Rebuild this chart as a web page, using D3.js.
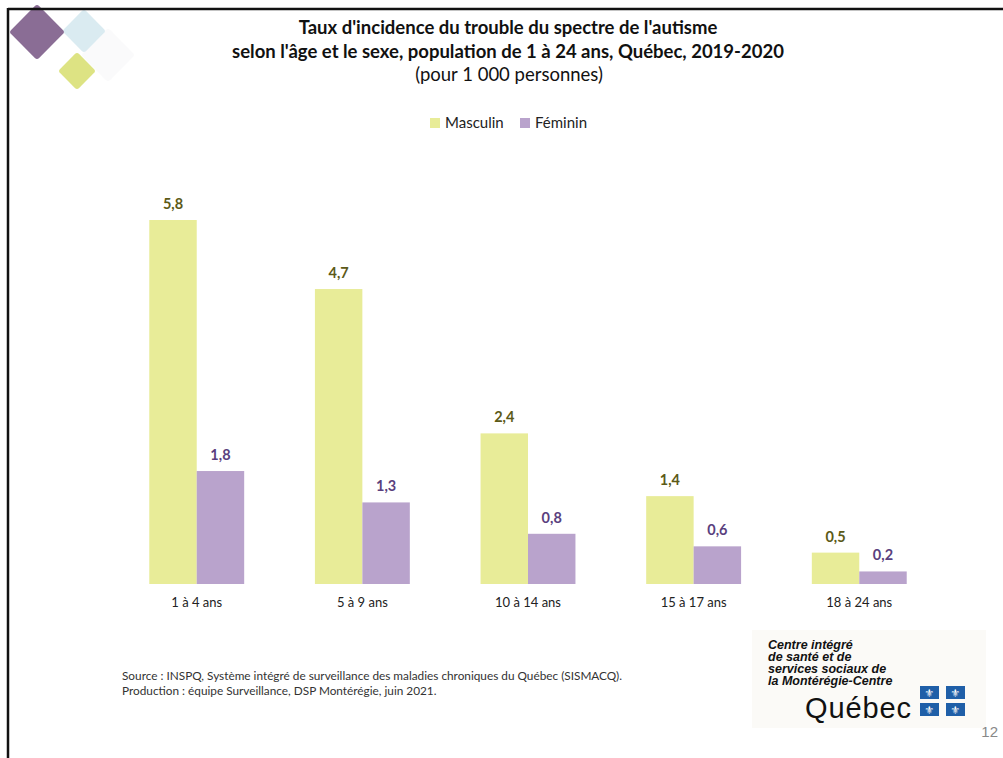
<!DOCTYPE html>
<html>
<head>
<meta charset="utf-8">
<script src="https://cdn.jsdelivr.net/npm/d3@7"></script>
<style>
  html, body { margin: 0; padding: 0; background: #fff; }
  svg { display: block; }
</style>
</head>
<body>
<svg id="chart" width="1003" height="758"></svg>
<script>
// Age groups and incidence per 1 000 persons, Québec 2019-2020
const ageGroups = ["1 à 4 ans", "5 à 9 ans", "10 à 14 ans", "15 à 17 ans", "18 à 24 ans"];
const masculin = [5.8, 4.7, 2.4, 1.4, 0.5];
const feminin = [1.8, 1.3, 0.8, 0.6, 0.2];
const seriesNames = ["Masculin", "Féminin"];

const titleLines = [
  "Taux d'incidence du trouble du spectre de l'autisme",
  "selon l'âge et le sexe, population de 1 à 24 ans, Québec, 2019-2020"
];
const subtitle = "(pour 1 000 personnes)";
const sourceLines = [
  "Source : INSPQ, Système intégré de surveillance des maladies chroniques du Québec (SISMACQ).",
  "Production : équipe Surveillance, DSP Montérégie, juin 2021."
];

const colors = { Masculin: "#e8ec98", "Féminin": "#b9a3cc" };
const labelColors = { Masculin: "#5c5a17", "Féminin": "#5a3f7e" };

const svg = d3.select("#chart");
const font = "Lato, 'Open Sans', sans-serif";

// Decorative diamonds in the corner
const deco = svg.append("g");
const diamond = (cx, cy, r, fill, op) => deco.append("rect")
  .attr("x", -r / Math.SQRT2).attr("y", -r / Math.SQRT2)
  .attr("width", r * Math.SQRT2).attr("height", r * Math.SQRT2)
  .attr("rx", 3)
  .attr("transform", `translate(${cx},${cy}) rotate(45)`)
  .attr("fill", fill).attr("opacity", op);
diamond(108, 55, 27, "#fafafb", 1);
diamond(84, 31, 22, "#d6e9f0", 0.9);
diamond(37, 32, 28, "#8a6d95", 1);
diamond(77, 71, 19, "#dde383", 1);

// Slide frame
svg.append("line").attr("x1", 8).attr("x2", 1003).attr("y1", 9).attr("y2", 9)
  .attr("stroke", "#111").attr("stroke-width", 2.5);
svg.append("line").attr("x1", 8).attr("x2", 8).attr("y1", 8).attr("y2", 758)
  .attr("stroke", "#111").attr("stroke-width", 2.5);

// Titles
svg.append("g").selectAll("text").data(titleLines).join("text")
  .attr("x", 508).attr("y", (d, i) => 34 + i * 24)
  .attr("text-anchor", "middle")
  .attr("font-family", font).attr("font-weight", "bold").attr("font-size", 18.5)
  .attr("fill", "#111").text(d => d);
svg.append("text").attr("x", 509).attr("y", 81).attr("text-anchor", "middle")
  .attr("font-family", font).attr("font-size", 18.5).attr("fill", "#111").text(subtitle);

// Legend
const legend = svg.append("g").selectAll("g").data(seriesNames).join("g")
  .attr("transform", (d, i) => `translate(${[430, 520][i]},118)`);
legend.append("rect").attr("width", 10).attr("height", 10).attr("fill", d => colors[d]);
legend.append("text").attr("x", 15).attr("y", 10)
  .attr("font-family", font).attr("font-size", 15).attr("fill", "#222").text(d => d);

// Scales
const x0 = d3.scaleBand().domain(ageGroups).range([114, 942]).paddingInner(0.427).paddingOuter(0.213);
const x1 = d3.scaleBand().domain(seriesNames).range([0, x0.bandwidth()]);
const y = d3.scaleLinear().domain([0, 5.8]).range([584, 220]);

const rows = ageGroups.map((g, i) => ({ group: g, values: [
  { key: "Masculin", value: masculin[i] },
  { key: "Féminin", value: feminin[i] }
]}));

const groups = svg.append("g").selectAll("g").data(rows).join("g")
  .attr("transform", d => `translate(${x0(d.group)},0)`);

groups.selectAll("rect").data(d => d.values).join("rect")
  .attr("x", d => x1(d.key)).attr("width", x1.bandwidth())
  .attr("y", d => y(d.value)).attr("height", d => y(0) - y(d.value))
  .attr("fill", d => colors[d.key]);

groups.selectAll("text").data(d => d.values).join("text")
  .attr("x", d => x1(d.key) + x1.bandwidth() / 2)
  .attr("y", d => y(d.value) - 11)
  .attr("text-anchor", "middle")
  .attr("font-family", font).attr("font-weight", "bold").attr("font-size", 14.5)
  .attr("fill", d => labelColors[d.key])
  .text(d => d3.format(".1f")(d.value).replace(".", ","));

// Category axis (labels only)
const xAxis = svg.append("g").attr("transform", `translate(0,${y(0)})`)
  .call(d3.axisBottom(x0).tickSize(0).tickPadding(14));
xAxis.select(".domain").remove();
xAxis.selectAll("text").attr("font-family", font).attr("font-size", 13).attr("fill", "#222");

// Source notes
svg.append("g").selectAll("text").data(sourceLines).join("text")
  .attr("x", 122).attr("y", (d, i) => 680 + i * 15)
  .attr("font-family", font).attr("font-size", 11.8).attr("fill", "#333").text(d => d);

// Organisation block
const logo = svg.append("g");
logo.append("rect").attr("x", 752).attr("y", 630).attr("width", 234).attr("height", 98).attr("fill", "#fbfaf7");
const orgLines = ["Centre intégré", "de santé et de", "services sociaux de", "la Montérégie-Centre"];
logo.selectAll("text.org").data(orgLines).join("text").attr("class", "org")
  .attr("x", 768).attr("y", (d, i) => 649 + i * 12)
  .attr("font-family", "'Liberation Sans', Arial, sans-serif").attr("font-weight", "bold")
  .attr("font-style", "italic").attr("font-size", 12.5).attr("fill", "#111").text(d => d);
logo.append("text").attr("x", 805).attr("y", 718)
  .attr("font-family", "'Liberation Sans', Arial, sans-serif").attr("font-size", 29)
  .attr("textLength", 106).attr("fill", "#111").text("Québec");
const flags = [[920, 686], [946, 686], [920, 703], [946, 703]];
const fg = logo.selectAll("g.flag").data(flags).join("g").attr("class", "flag")
  .attr("transform", d => `translate(${d[0]},${d[1]})`);
fg.append("rect").attr("width", 19).attr("height", 13).attr("fill", "#1f5fa8");
fg.append("text").attr("x", 9.5).attr("y", 11).attr("text-anchor", "middle")
  .attr("font-family", "'DejaVu Sans', sans-serif").attr("font-size", 11).attr("fill", "#fff").text("⚜");

svg.append("text").attr("x", 998).attr("y", 737).attr("text-anchor", "end")
  .attr("font-family", "'Liberation Sans', Arial, sans-serif").attr("font-size", 15)
  .attr("fill", "#888").text("12");
</script>
</body>
</html>
